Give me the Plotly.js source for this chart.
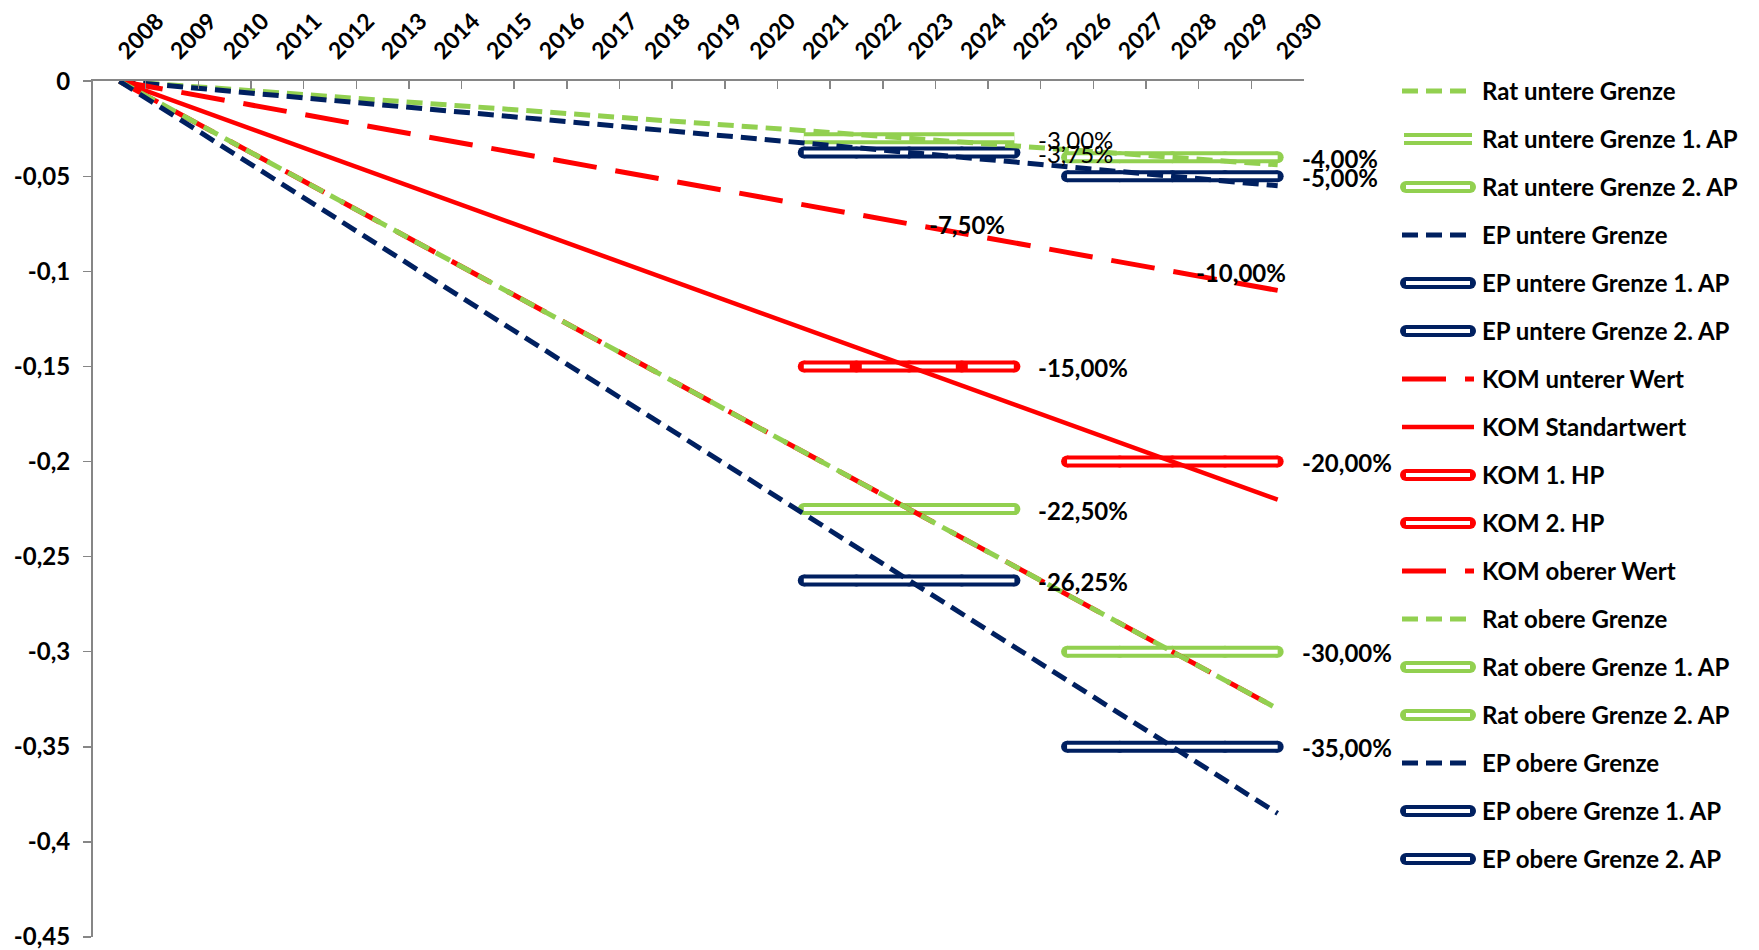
<!DOCTYPE html>
<html><head><meta charset="utf-8">
<script src="https://cdn.plot.ly/plotly-3.0.1.min.js"></script>
<style>html,body{margin:0;padding:0;background:#fff;} #chart{width:1759px;height:950px;}</style>
</head><body><div id="chart"></div>
<script>
// ---------- data ----------
const years = ['2008','2009','2010','2011','2012','2013','2014','2015','2016','2017','2018','2019',
               '2020','2021','2022','2023','2024','2025','2026','2027','2028','2029','2030'];
const period1 = ['2021','2022','2023','2024','2025'];
const period2 = ['2026','2027','2028','2029','2030'];

const ratUntereGrenze = [0,-0.002,-0.004,-0.006,-0.008,-0.01,-0.012,-0.014,-0.016,-0.018,-0.02,-0.022,
                         -0.024,-0.026,-0.028,-0.03,-0.032,-0.034,-0.036,-0.038,-0.04,-0.042,-0.044];
const epUntereGrenze = [0,-0.0025,-0.005,-0.0075,-0.01,-0.0125,-0.015,-0.0175,-0.02,-0.0225,-0.025,-0.0275,
                        -0.03,-0.0325,-0.035,-0.0375,-0.04,-0.0425,-0.045,-0.0475,-0.05,-0.0525,-0.055];
const komUntererWert = [0,-0.005,-0.01,-0.015,-0.02,-0.025,-0.03,-0.035,-0.04,-0.045,-0.05,-0.055,
                        -0.06,-0.065,-0.07,-0.075,-0.08,-0.085,-0.09,-0.095,-0.1,-0.105,-0.11];
const komStandartwert = [0,-0.01,-0.02,-0.03,-0.04,-0.05,-0.06,-0.07,-0.08,-0.09,-0.1,-0.11,
                         -0.12,-0.13,-0.14,-0.15,-0.16,-0.17,-0.18,-0.19,-0.2,-0.21,-0.22];
const komObererWert = [0,-0.015,-0.03,-0.045,-0.06,-0.075,-0.09,-0.105,-0.12,-0.135,-0.15,-0.165,
                       -0.18,-0.195,-0.21,-0.225,-0.24,-0.255,-0.27,-0.285,-0.3,-0.315,-0.33];
const ratObereGrenze = [0,-0.015,-0.03,-0.045,-0.06,-0.075,-0.09,-0.105,-0.12,-0.135,-0.15,-0.165,
                        -0.18,-0.195,-0.21,-0.225,-0.24,-0.255,-0.27,-0.285,-0.3,-0.315,-0.33];
const epObereGrenze = [0,-0.0175,-0.035,-0.0525,-0.07,-0.0875,-0.105,-0.1225,-0.14,-0.1575,-0.175,-0.1925,
                       -0.21,-0.2275,-0.245,-0.2625,-0.28,-0.2975,-0.315,-0.3325,-0.35,-0.3675,-0.385];

const ratUntere1AP = [-0.03,-0.03,-0.03,-0.03,-0.03];
const ratUntere2AP = [-0.04,-0.04,-0.04,-0.04,-0.04];
const epUntere1AP  = [-0.0375,-0.0375,-0.0375,-0.0375,-0.0375];
const epUntere2AP  = [-0.05,-0.05,-0.05,-0.05,-0.05];
const kom1HP       = [-0.15,-0.15,-0.15,-0.15,-0.15];
const kom2HP       = [-0.2,-0.2,-0.2,-0.2,-0.2];
const ratObere1AP  = [-0.225,-0.225,-0.225,-0.225,-0.225];
const ratObere2AP  = [-0.3,-0.3,-0.3,-0.3,-0.3];
const epObere1AP   = [-0.2625,-0.2625,-0.2625,-0.2625,-0.2625];
const epObere2AP   = [-0.35,-0.35,-0.35,-0.35,-0.35];

const labelYears  = ['2025','2025','2023','2025','2025','2025','2030','2030','2028','2030','2030','2030'];
const labelValues = [-0.03,-0.0375,-0.075,-0.15,-0.225,-0.2625,-0.04,-0.05,-0.1,-0.2,-0.3,-0.35];
const labelTexts  = ['-3,00%','-3,75%','-7,50%','-15,00%','-22,50%','-26,25%',
                     '-4,00%','-5,00%','-10,00%','-20,00%','-30,00%','-35,00%'];
const labelBold   = [false,false,true,true,true,true,true,true,true,true,true,true];

const yTickVals = [0,-0.05,-0.1,-0.15,-0.2,-0.25,-0.3,-0.35,-0.4,-0.45];
const yTickText = ['0','-0,05','-0,1','-0,15','-0,2','-0,25','-0,3','-0,35','-0,4','-0,45'];

// ---------- styles ----------
const GREEN = '#92D050', NAVY = '#002060', RED = '#FF0000', AXIS = '#868686';
const FONT = 'Lato, "Open Sans", "Liberation Sans", sans-serif';

const series = [
  {name:'Rat untere Grenze',       x:years,   y:ratUntereGrenze, color:GREEN, kind:'dash'},
  {name:'Rat untere Grenze 1. AP', x:period1, y:ratUntere1AP,    color:GREEN, kind:'double'},
  {name:'Rat untere Grenze 2. AP', x:period2, y:ratUntere2AP,    color:GREEN, kind:'capsule'},
  {name:'EP untere Grenze',        x:years,   y:epUntereGrenze,  color:NAVY,  kind:'dash'},
  {name:'EP untere Grenze 1. AP',  x:period1, y:epUntere1AP,     color:NAVY,  kind:'capsule'},
  {name:'EP untere Grenze 2. AP',  x:period2, y:epUntere2AP,     color:NAVY,  kind:'capsule'},
  {name:'KOM unterer Wert',        x:years,   y:komUntererWert,  color:RED,   kind:'longdash'},
  {name:'KOM Standartwert',        x:years,   y:komStandartwert, color:RED,   kind:'solid'},
  {name:'KOM 1. HP',               x:period1, y:kom1HP,          color:RED,   kind:'capsule', innerDash:'46px,12px,94px,12px'},
  {name:'KOM 2. HP',               x:period2, y:kom2HP,          color:RED,   kind:'capsule'},
  {name:'KOM oberer Wert',         x:years,   y:komObererWert,   color:RED,   kind:'longdash'},
  {name:'Rat obere Grenze',        x:years,   y:ratObereGrenze,  color:GREEN, kind:'dash'},
  {name:'Rat obere Grenze 1. AP',  x:period1, y:ratObere1AP,     color:GREEN, kind:'capsule'},
  {name:'Rat obere Grenze 2. AP',  x:period2, y:ratObere2AP,     color:GREEN, kind:'capsule'},
  {name:'EP obere Grenze',         x:years,   y:epObereGrenze,   color:NAVY,  kind:'dash'},
  {name:'EP obere Grenze 1. AP',   x:period1, y:epObere1AP,      color:NAVY,  kind:'capsule'},
  {name:'EP obere Grenze 2. AP',   x:period2, y:epObere2AP,      color:NAVY,  kind:'capsule'}
];

function makeTraces(s, x, y, xa, ya, legend) {
  const base = {type:'scatter', x:x, y:y, xaxis:xa, yaxis:ya, name:s.name,
                hoverinfo:'skip', showlegend:false, cliponaxis:false};
  switch (s.kind) {
    case 'dash':
      return [Object.assign({}, base, {mode:'lines', line:{color:s.color, width:5, dash:'16px,8px'}})];
    case 'longdash':
      return [Object.assign({}, base, {mode:'lines', line:{color:s.color, width:5, dash:'44px,19px'}})];
    case 'solid':
      return [Object.assign({}, base, {mode:'lines', line:{color:s.color, width:4.5}})];
    case 'double':
      return [Object.assign({}, base, {mode:'lines', line:{color:s.color, width:12}}),
              Object.assign({}, base, {mode:'lines', line:{color:'#ffffff', width:4}})];
    case 'capsule':
      return [Object.assign({}, base, {mode:'lines+markers', line:{color:s.color, width:12},
                                       marker:{color:s.color, size:12, line:{width:0}}}),
              Object.assign({}, base, {mode:'lines', line:{color:'#ffffff', width:4,
                                       dash:(!legend && s.innerDash) ? s.innerDash : 'solid'}})];
  }
}

// ---------- main plot: segments first, lines on top ----------
const traces = [];
series.filter(s => s.kind === 'double' || s.kind === 'capsule')
      .forEach(s => traces.push(...makeTraces(s, s.x, s.y, 'x', 'y', false)));
series.filter(s => !(s.kind === 'double' || s.kind === 'capsule'))
      .forEach(s => traces.push(...makeTraces(s, s.x, s.y, 'x', 'y', false)));

// ---------- legend (own axes in the right margin area) ----------
const W = 1759, H = 950, ML = 93, MT = 81, MB = 13;
const plotRight = 1304, legLeft = 1395;
const paperW = W - ML, paperH = H - MT - MB;
const rowTop = 91, rowStep = 48, textX = 1480;
const symExtent = {dash:[1402,1466], longdash:[1402,1474], solid:[1402,1474], double:[1404,1472], capsule:[1406,1470]};

const annotations = [];
series.forEach((s, i) => {
  const yy = rowTop + rowStep * i - MT;
  const ext = symExtent[s.kind];
  traces.push(...makeTraces(s, [ext[0] - legLeft, ext[1] - legLeft], [yy, yy], 'x2', 'y2', true));
  annotations.push({xref:'x2', yref:'y2', x:textX - legLeft, y:yy, text:s.name, showarrow:false,
                    xanchor:'left', yanchor:'middle', yshift:1,
                    font:{family:FONT, size:24, weight:700, color:'#000'}});
});

// ---------- data labels (category index positions) ----------
labelTexts.forEach((t, i) => {
  annotations.push({xref:'x', yref:'y', x:years.indexOf(labelYears[i]), y:labelValues[i], text:t,
                    showarrow:false, xanchor:'left', yanchor:'middle',
                    xshift:(labelYears[i] === '2023' ? 18 : 22), yshift:-1,
                    font:{family:FONT, size:24, weight:labelBold[i] ? 700 : 400, color:'#000'}});
});

const layout = {
  width:W, height:H,
  margin:{l:ML, r:0, t:MT, b:MB, autoexpand:false},
  paper_bgcolor:'#ffffff', plot_bgcolor:'rgba(0,0,0,0)',
  showlegend:false,
  xaxis:{type:'category', categoryarray:years, categoryorder:'array', range:[-0.5, years.length - 0.5],
         domain:[0, (plotRight - ML) / paperW], anchor:'y', side:'top',
         tickson:'boundaries', ticks:'inside', ticklen:8, tickwidth:1.5, tickcolor:AXIS,
         ticklabelstandoff:6,
         showline:true, linecolor:AXIS, linewidth:2, showgrid:false, zeroline:false,
         tickangle:-45, tickfont:{family:FONT, size:23, weight:700, color:'#000'},
         fixedrange:true},
  yaxis:{range:[-0.45, 0.0001], domain:[0,1], anchor:'x',
         tickvals:yTickVals, ticktext:yTickText, ticklabeloverflow:'allow',
         ticks:'outside', ticklen:8, tickwidth:1.5, tickcolor:AXIS, ticklabelstandoff:8,
         showline:true, linecolor:AXIS, linewidth:2, showgrid:false, zeroline:false,
         tickfont:{family:FONT, size:24, weight:700, color:'#000'}, fixedrange:true},
  xaxis2:{domain:[(legLeft - ML) / paperW, 1], range:[0, W - legLeft], anchor:'y2', visible:false, fixedrange:true},
  yaxis2:{domain:[0,1], range:[paperH, 0], anchor:'x2', visible:false, fixedrange:true},
  annotations:annotations
};

Plotly.newPlot('chart', traces, layout, {displayModeBar:false, staticPlot:true});
</script>
</body></html>
